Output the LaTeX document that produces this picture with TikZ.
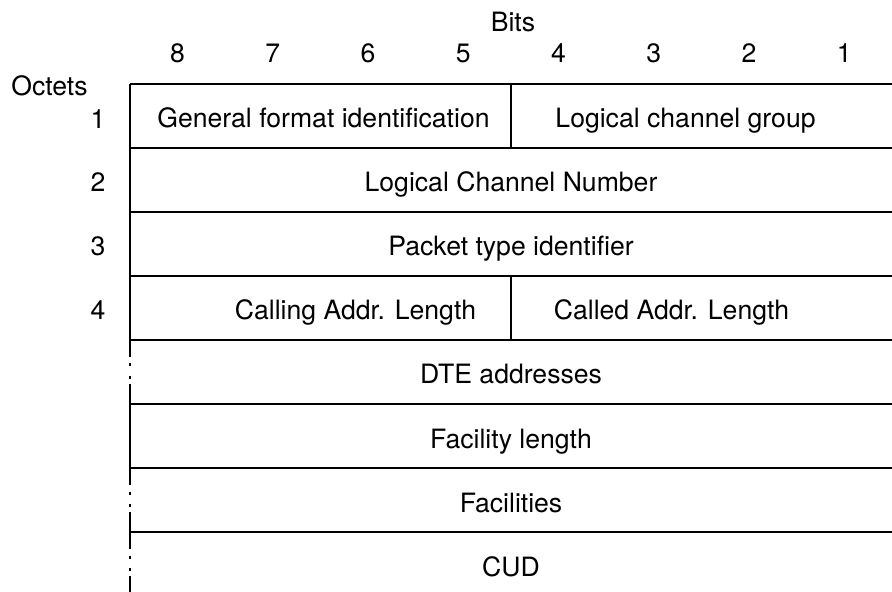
\documentclass[tikz,border=0pt]{standalone}
\usepackage{fontspec}
\setmainfont{TeX Gyre Heros}
\usetikzlibrary{positioning}

\begin{document}
\begin{tikzpicture}[
    x=0.5pt, y=-0.5pt,
    line width=0.9pt,
    field/.style={rectangle, minimum width=381pt, minimum height=32pt,
        inner sep=0pt, outer sep=0pt, text height=12pt, text depth=0pt,
        font=\fontsize{13.3}{16}\selectfont, text=black},
    half/.style={field, minimum width=190.5pt},
    caption/.style={inner sep=0pt, anchor=base, font=\fontsize{13.3}{16}\selectfont},
    octnum/.style={inner sep=0pt, text height=12pt, text depth=0pt,
        font=\fontsize{13.3}{16}\selectfont},
    gapped/.style={dash pattern=on 8.5pt off 3.25pt on 1.5pt off 4.5pt on 1.5pt off 2.75pt on 10pt}
]
\useasboundingbox (0,0) rectangle (892,592);

% header
\node (bits) [caption] at (513,32) {Bits};
\foreach \b [count=\i] in {8,7,...,1}
    \node (bit\b) [caption] at ({130+95.25*(\i-0.5)},63) {\b};
\node (octets) [caption] at (49.5,96) {Octets};

% octet 1
\node (gfi) [half] at (320.5,116) {};
\node (lcg) [half, right=0pt of gfi] {};
\node (gfit) [field, minimum width=0pt] at ([xshift=1.5pt]gfi) {General format identification};
\node (lcgt) [field, minimum width=0pt] at ([xshift=-8pt]lcg) {Logical channel group};

% octets 2, 3
\node (lcn) [field, below=0pt of gfi.south east] {Logical Channel Number};
\node (pti) [field, below=0pt of lcn] {Packet type identifier};

% octet 4
\node (cga) [half, below left=0pt and 0pt of pti.south] {};
\node (cda) [half, right=0pt of cga] {};
\node (cgat) [field, minimum width=0pt] at ([xshift=17.5pt]cga) {Calling Addr. Length};
\node (cdat) [field, minimum width=0pt] at ([xshift=-15pt]cda) {Called Addr. Length};

% variable part
\node (dte) [field, below=0pt of cga.south east] {DTE addresses};
\node (fcl) [field, below=0pt of dte] {Facility length};
\node (fac) [field, below=0pt of fcl] {Facilities};
\node (cud) [field, below=0pt of fac] {CUD};

% octet numbers
\node (o1) [octnum] at (98,117) {1};
\node (o2) [octnum] at (o1 |- lcn) {2};
\node (o3) [octnum] at (o1 |- pti) {3};
\node (o4) [octnum] at (o1 |- cga) {4};

% rules
\draw (gfi.north west) -- (lcg.north east);
\draw (gfi.north east) -- (gfi.south east);
\draw (lcn.north west) -- (lcn.north east);
\draw (pti.north west) -- (pti.north east);
\draw (cga.north west) -- (cda.north east);
\draw (cga.north east) -- (cga.south east);
\foreach \r in {dte,fcl,fac,cud}
    \draw (\r.north west) -- (\r.north east);

% left edge
\draw (gfi.north west) -- (dte.north west);
\draw[gapped] (dte.north west) -- (dte.south west);
\draw (fcl.north west) -- (fcl.south west);
\draw[gapped] (fac.north west) -- (fac.south west);
\draw[gapped] (cud.north west) -- (cud.south west);

\end{tikzpicture}
\end{document}
